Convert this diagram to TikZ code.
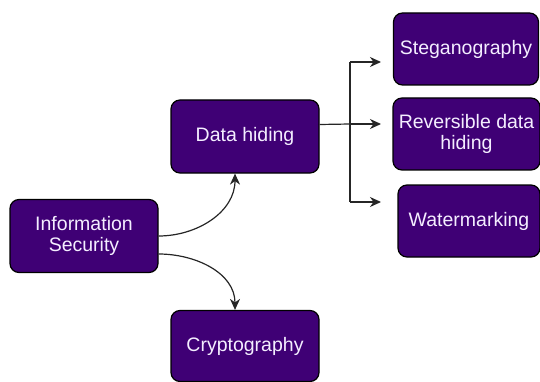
\documentclass[tikz,border=0pt]{standalone}
\usepackage{fontspec}
\setmainfont{Liberation Sans}
\usetikzlibrary{arrows.meta}
\definecolor{boxfill}{HTML}{3F0075}
\definecolor{boxtext}{HTML}{F4EEFF}
\begin{document}
\begin{tikzpicture}[x=1pt,y=-1pt,
  box/.style={draw=black, line width=1.2pt, fill=boxfill, rounded corners=9pt,
    text=boxtext, font=\fontsize{19.5}{21.5}\selectfont, align=center, inner sep=0pt},
  conn/.style={draw=black!85, line width=1.2pt},
  arr/.style={conn, -{Stealth[length=11pt,width=10pt,inset=3.5pt]}}]
\useasboundingbox (0,0) rectangle (540,382);
\node[box, minimum width=148pt, minimum height=73pt] (is) at (84,236) {Information\\Security};
\node[box, minimum width=148pt, minimum height=73pt] (dh) at (245,136.5) {Data hiding};
\node[box, minimum width=148pt, minimum height=71pt] (cr) at (245,346) {Cryptography};
\node[box, minimum width=145pt, minimum height=72pt] (st) at (466,49) {Steganography};
\node[box, minimum width=147pt, minimum height=72pt] (rv) at (466.5,134) {Reversible data\\hiding};
\node[box, minimum width=142pt, minimum height=72pt] (wm) at (469,221) {Watermarking};
% curved connectors
\draw[arr] (is.east) to[out=0,in=-90] ([xshift=-10pt]dh.south);
\draw[arr] ([yshift=-18pt]is.east) to[out=0,in=90] ([xshift=-10pt]cr.north);
% tree connectors
\coordinate (dhout) at ([yshift=12pt]dh.east);
\coordinate (trunk) at (350,124);
\coordinate (tst) at (350,62);
\coordinate (twm) at (350,202);
\coordinate (est) at (381,62);
\coordinate (erv) at (381,124);
\coordinate (ewm) at (381,202);
\draw[conn] (dhout) -- (trunk);
\draw[conn] (tst) -- (twm);
\draw[arr] (trunk) -- (erv);
\draw[arr] (tst) -- (est);
\draw[arr] (twm) -- (ewm);
\end{tikzpicture}
\end{document}
